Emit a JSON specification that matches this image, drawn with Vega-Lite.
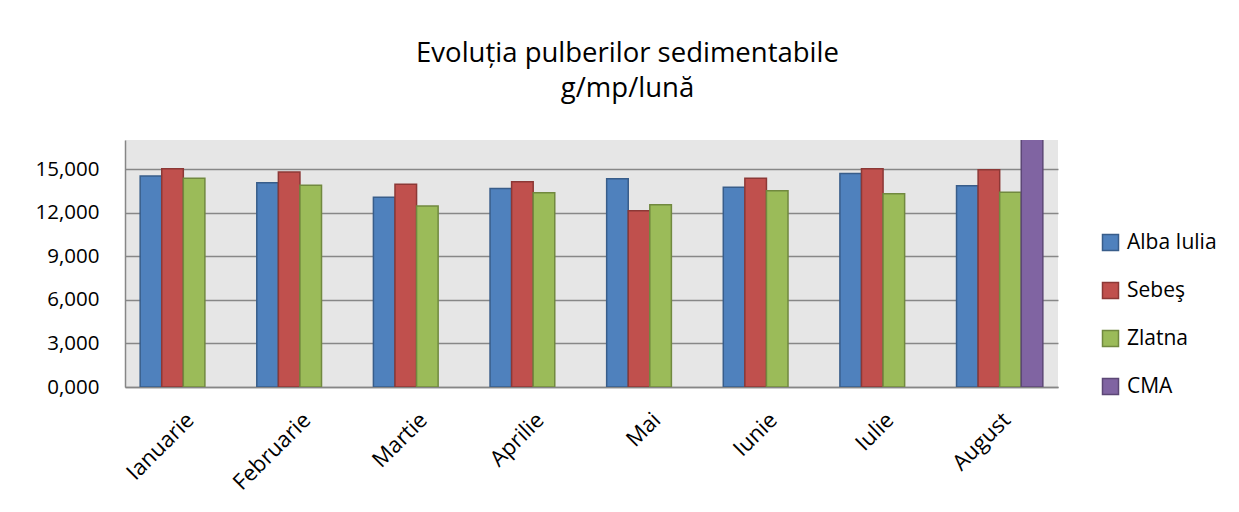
{
  "$schema": "https://vega.github.io/schema/vega-lite/v6.json",
  "autosize": "none",
  "width": 933,
  "height": 247,
  "padding": {"left": 125, "top": 140, "right": 181, "bottom": 125},
  "background": "white",
  "title": {
    "text": ["Evoluția pulberilor sedimentabile", "g/mp/lună"],
    "font": "Open Sans",
    "fontSize": 27.5,
    "fontWeight": "normal",
    "lineHeight": 35,
    "color": "#000000",
    "anchor": "middle",
    "dx": 36,
    "offset": 38
  },
  "data": {
    "values": [
      {"luna": "Ianuarie", "statie": "Alba Iulia", "valoare": 14.52},
      {"luna": "Ianuarie", "statie": "Sebeş", "valoare": 15.02},
      {"luna": "Ianuarie", "statie": "Zlatna", "valoare": 14.36},
      {"luna": "Februarie", "statie": "Alba Iulia", "valoare": 14.06},
      {"luna": "Februarie", "statie": "Sebeş", "valoare": 14.8},
      {"luna": "Februarie", "statie": "Zlatna", "valoare": 13.88},
      {"luna": "Martie", "statie": "Alba Iulia", "valoare": 13.06},
      {"luna": "Martie", "statie": "Sebeş", "valoare": 13.95},
      {"luna": "Martie", "statie": "Zlatna", "valoare": 12.45},
      {"luna": "Aprilie", "statie": "Alba Iulia", "valoare": 13.67},
      {"luna": "Aprilie", "statie": "Sebeş", "valoare": 14.13},
      {"luna": "Aprilie", "statie": "Zlatna", "valoare": 13.37},
      {"luna": "Mai", "statie": "Alba Iulia", "valoare": 14.34},
      {"luna": "Mai", "statie": "Sebeş", "valoare": 12.13},
      {"luna": "Mai", "statie": "Zlatna", "valoare": 12.55},
      {"luna": "Iunie", "statie": "Alba Iulia", "valoare": 13.74},
      {"luna": "Iunie", "statie": "Sebeş", "valoare": 14.36},
      {"luna": "Iunie", "statie": "Zlatna", "valoare": 13.51},
      {"luna": "Iulie", "statie": "Alba Iulia", "valoare": 14.7},
      {"luna": "Iulie", "statie": "Sebeş", "valoare": 15.02},
      {"luna": "Iulie", "statie": "Zlatna", "valoare": 13.3},
      {"luna": "August", "statie": "Alba Iulia", "valoare": 13.85},
      {"luna": "August", "statie": "Sebeş", "valoare": 14.95},
      {"luna": "August", "statie": "Zlatna", "valoare": 13.4},
      {"luna": "August", "statie": "CMA", "valoare": 20.0}
    ]
  },
  "mark": {"type": "bar", "clip": true, "strokeWidth": 1.5},
  "encoding": {
    "x": {
      "field": "luna",
      "type": "nominal",
      "sort": ["Ianuarie", "Februarie", "Martie", "Aprilie", "Mai", "Iunie", "Iulie", "August"],
      "scale": {"paddingInner": 0.26, "paddingOuter": 0.13},
      "axis": {
        "title": null,
        "labelAngle": -45,
        "labelFont": "Open Sans",
        "labelFontSize": 22,
        "labelColor": "#000000",
        "labelPadding": 22,
        "ticks": false,
        "domainColor": "#868686",
        "domainWidth": 1.5,
        "grid": false
      }
    },
    "xOffset": {
      "field": "statie",
      "type": "nominal",
      "scale": {"domain": ["Alba Iulia", "Sebeş", "Zlatna", "CMA"], "paddingInner": 0, "paddingOuter": 0}
    },
    "y": {
      "field": "valoare",
      "type": "quantitative",
      "scale": {"domain": [0, 17], "nice": false},
      "axis": {
        "title": null,
        "values": [0, 3, 6, 9, 12, 15],
        "labelExpr": "replace(format(datum.value, '.3f'), '.', ',')",
        "labelFont": "Open Sans",
        "labelFontSize": 20.5,
        "labelColor": "#000000",
        "labelPadding": 26,
        "ticks": false,
        "domainColor": "#868686",
        "domainWidth": 1.5,
        "gridColor": "#878787",
        "gridWidth": 1.5
      }
    },
    "fill": {
      "field": "statie",
      "type": "nominal",
      "scale": {"domain": ["Alba Iulia", "Sebeş", "Zlatna", "CMA"], "range": ["#4F81BD", "#C0504D", "#9BBB59", "#8064A2"]},
      "legend": {
        "title": null,
        "orient": "none",
        "legendX": 975,
        "legendY": 92,
        "symbolType": "square",
        "symbolSize": 256,
        "symbolStrokeWidth": 1.5,
        "labelFont": "Open Sans",
        "labelFontSize": 21,
        "labelColor": "#000000",
        "labelOffset": 6,
        "rowPadding": 25
      }
    },
    "stroke": {
      "field": "statie",
      "type": "nominal",
      "scale": {"domain": ["Alba Iulia", "Sebeş", "Zlatna", "CMA"], "range": ["#385D8A", "#8C3836", "#71893F", "#5C4776"]},
      "legend": {
        "title": null,
        "orient": "none",
        "legendX": 975,
        "legendY": 92,
        "symbolType": "square",
        "symbolSize": 256,
        "symbolStrokeWidth": 1.5,
        "labelFont": "Open Sans",
        "labelFontSize": 21,
        "labelColor": "#000000",
        "labelOffset": 6,
        "rowPadding": 25
      }
    }
  },
  "config": {
    "view": {"fill": "#E6E6E6", "stroke": null}
  }
}
